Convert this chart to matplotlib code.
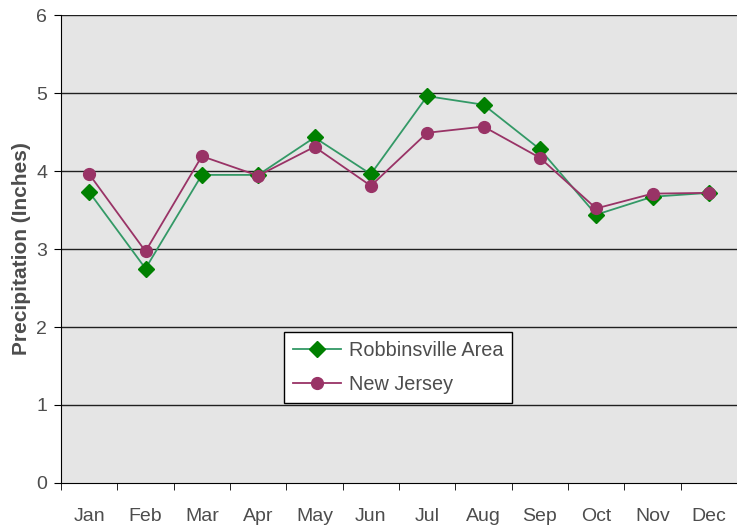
import matplotlib.pyplot as plt
import numpy as np

months = ["Jan", "Feb", "Mar", "Apr", "May", "Jun", "Jul", "Aug", "Sep", "Oct", "Nov", "Dec"]
robbinsville = [3.73, 2.75, 3.95, 3.95, 4.43, 3.96, 4.96, 4.85, 4.28, 3.44, 3.67, 3.72]
new_jersey = [3.96, 2.97, 4.19, 3.94, 4.31, 3.81, 4.49, 4.57, 4.17, 3.52, 3.71, 3.72]
y_ticks = [0, 1, 2, 3, 4, 5, 6]

plt.rcParams['font.family'] = ['Liberation Sans', 'DejaVu Sans']
text_color = "#4d4d4d"

fig = plt.figure(figsize=(7.37, 5.27), dpi=100)
ax = fig.add_axes([0.0828, 0.0835, 0.9172, 0.888])
ax.set_facecolor("#e5e5e5")

x = np.arange(len(months))
ax.plot(x, robbinsville, color="#339966", lw=1.3, marker="D", markersize=8,
        markerfacecolor="#008000", markeredgecolor="#008000", label="Robbinsville Area", zorder=3)
ax.plot(x, new_jersey, color="#993366", lw=1.3, marker="o", markersize=8.5,
        markerfacecolor="#993366", markeredgecolor="#993366", label="New Jersey", zorder=3)

ax.set_xlim(-0.5, len(months) - 0.5)
ax.set_ylim(0, 6)
ax.set_yticks(y_ticks)
ax.set_xticks(x)
ax.set_xticklabels(months)
ax.set_xticks(np.arange(len(months) + 1) - 0.5, minor=True)
ax.tick_params(axis="x", which="major", length=0, pad=18, labelsize=14, labelcolor=text_color)
ax.tick_params(axis="x", which="minor", length=5, direction="out", color="black")
ax.tick_params(axis="y", length=5, direction="out", pad=5, labelsize=14, labelcolor=text_color)

for v in y_ticks[1:]:
    ax.axhline(v, color="#202020", lw=1.0, zorder=1)

for s in ["top", "right"]:
    ax.spines[s].set_visible(False)
ax.spines["left"].set_color("black")
ax.spines["bottom"].set_color("black")

ax.set_ylabel("Precipitation (Inches)", fontsize=15, fontweight="bold", color=text_color, labelpad=4)

leg = ax.legend(loc="upper left", bbox_to_anchor=(0.330, 0.3226), borderaxespad=0, fontsize=14.3,
                frameon=True, fancybox=False, edgecolor="black", framealpha=1, handlelength=2.4,
                borderpad=0.45, labelspacing=0.75, handletextpad=0.4)
leg.get_frame().set_linewidth(1.0)
for t in leg.get_texts():
    t.set_color(text_color)

fig.savefig("out.png", dpi=100)
